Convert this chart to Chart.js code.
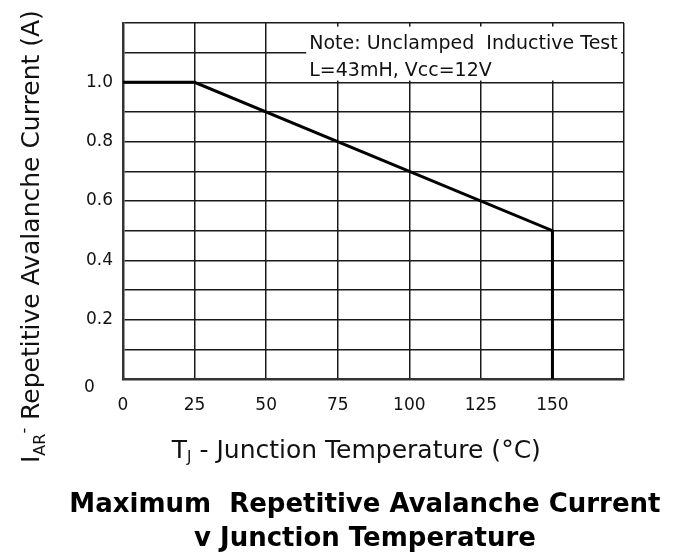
<!DOCTYPE html>
<html>
<head>
<meta charset="utf-8">
<script src="https://cdn.jsdelivr.net/npm/chart.js@4"></script>
<style>
  html, body { margin: 0; padding: 0; background: #fff; }
  #wrap { width: 678px; height: 559px; }
</style>
</head>
<body>
<div id="wrap"><canvas id="avalancheChart"></canvas></div>
<script>
// Repetitive avalanche current derating curve
const tempC = [0, 25, 150, 150];
const currentA = [1.0, 1.0, 0.5, 0];

const xTicks = [0, 25, 50, 75, 100, 125, 150];
const yTickLabels = ['0.2', '0.4', '0.6', '0.8', '1.0'];

const noteLines = ['Note: Unclamped  Inductive Test', 'L=43mH, Vcc=12V'];
const titleLines = ['Maximum  Repetitive Avalanche Current', 'v Junction Temperature'];

const FONT = '"DejaVu Sans", "Liberation Sans", sans-serif';

// draws a string with a subscript / superscript part, returns new x
function drawRun(ctx, parts, x, y) {
    parts.forEach(p => {
        ctx.font = p.size + 'px ' + FONT;
        ctx.fillText(p.text, x, y + (p.dy || 0));
        x += ctx.measureText(p.text).width;
    });
    return x;
}
function runWidth(ctx, parts) {
    let w = 0;
    parts.forEach(p => {
        ctx.font = p.size + 'px ' + FONT;
        w += ctx.measureText(p.text).width;
    });
    return w;
}

const extrasPlugin = {
    id: 'extras',
    beforeDatasetsDraw(chart) {
        const ctx = chart.ctx;
        const xs = chart.scales.x, ys = chart.scales.y;
        // note box covers the grid in the top right corner
        const left = xs.getPixelForValue(64);
        const right = xs.getPixelForValue(174);
        const top = ys.getPixelForValue(1.188);
        const bottom = ys.getPixelForValue(1.006);
        ctx.save();
        ctx.fillStyle = '#fff';
        ctx.fillRect(left, top, right - left, bottom - top);
        ctx.fillStyle = '#111';
        ctx.font = '19px ' + FONT;
        ctx.textBaseline = 'alphabetic';
        ctx.fillText(noteLines[0], left + 3, top + 22);
        ctx.fillText(noteLines[1], left + 3, top + 49);
        ctx.restore();
    },
    afterDraw(chart) {
        const ctx = chart.ctx;
        const xs = chart.scales.x, ys = chart.scales.y;
        const area = chart.chartArea;
        ctx.save();
        ctx.fillStyle = '#111';
        ctx.textBaseline = 'alphabetic';

        // corner "0" of the y axis
        ctx.font = '17px ' + FONT;
        ctx.textAlign = 'left';
        ctx.textBaseline = 'middle';
        ctx.fillText('0', 84, ys.getPixelForValue(0) + 9);
        ctx.textBaseline = 'alphabetic';

        // x axis title
        const xParts = [
            { text: 'T', size: 25 },
            { text: 'J', size: 15, dy: 4 },
            { text: ' - Junction Temperature (°C)', size: 25 }
        ];
        const xw = runWidth(ctx, xParts);
        const xc = xs.getPixelForValue(81.5);
        drawRun(ctx, xParts, xc - xw / 2, area.bottom + 79);

        // chart caption under the axis
        ctx.fillStyle = '#000';
        ctx.textAlign = 'center';
        ctx.font = 'bold 26px ' + FONT;
        const tc = xs.getPixelForValue(84.5);
        ctx.fillText(titleLines[0], tc, area.bottom + 133);
        ctx.fillText(titleLines[1], tc, area.bottom + 167);
        ctx.textAlign = 'left';
        ctx.fillStyle = '#111';

        // y axis title, rotated
        const yParts = [
            { text: 'I', size: 25 },
            { text: 'AR', size: 16, dy: 6 },
            { text: '-', size: 16, dy: -10 },
            { text: ' Repetitive Avalanche Current (A)', size: 25 }
        ];
        const yw = runWidth(ctx, yParts);
        const yc = ys.getPixelForValue(0.48);
        ctx.translate(39, yc);
        ctx.rotate(-Math.PI / 2);
        drawRun(ctx, yParts, -yw / 2, 0);
        ctx.restore();
    }
};

const ctx = document.getElementById('avalancheChart').getContext('2d');
const chart = new Chart(ctx, {
    type: 'line',
    data: {
        datasets: [{
            data: tempC.map((t, i) => ({ x: t, y: currentA[i] })),
            borderColor: '#000',
            borderWidth: 3,
            pointRadius: 0,
            tension: 0,
            fill: false
        }]
    },
    options: {
        responsive: true,
        maintainAspectRatio: false,
        animation: false,
        layout: { padding: { top: 23, right: 54, left: 0, bottom: 72 } },
        plugins: {
            legend: { display: false },
            tooltip: { enabled: false },
            title: { display: false }
        },
        scales: {
            x: {
                type: 'linear',
                min: 0,
                max: 175,
                afterFit(scale) { scale.height = 108; },
                afterBuildTicks(scale) {
                    scale.ticks = xTicks.concat([175]).map(v => ({ value: v }));
                },
                ticks: {
                    padding: 16,
                    color: '#111',
                    font: { family: FONT, size: 17 },
                    maxRotation: 0,
                    callback: v => (xTicks.includes(v) ? String(v) : '')
                },
                grid: { color: '#1a1a1a', lineWidth: 1.5, drawTicks: false },
                border: { color: '#333', width: 2.5 }
            },
            y: {
                min: 0,
                max: 1.2,
                afterFit(scale) { scale.width = 123; },
                ticks: {
                    stepSize: 0.1,
                    padding: 10,
                    color: '#111',
                    font: { family: FONT, size: 17 },
                    callback: v => {
                        const s = v.toFixed(1);
                        return yTickLabels.includes(s) ? s : '';
                    }
                },
                grid: { color: '#1a1a1a', lineWidth: 1.5, drawTicks: false },
                border: { color: '#333', width: 2.5 }
            }
        }
    },
    plugins: [extrasPlugin]
});
</script>
</body>
</html>
